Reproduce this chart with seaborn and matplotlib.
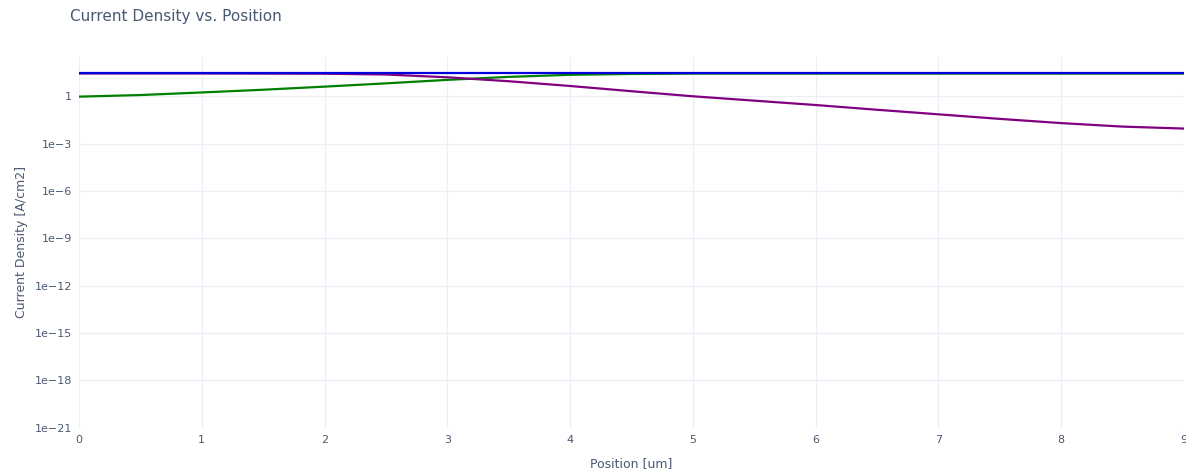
import pandas as pd
import matplotlib
matplotlib.use("Agg")
import matplotlib.pyplot as plt
import matplotlib.ticker as mticker
import seaborn as sns
import numpy as np

# values (log y axis)
position = [0, 0.5, 1, 1.5, 2, 2.5, 3, 3.5, 4, 4.5, 5, 5.5, 6, 6.5, 7, 7.5, 8, 8.5, 9]
j_green = [0.95, 1.2, 1.75, 2.6, 4.1, 6.6, 11, 17, 23, 26, 27.5, 27.5, 27.5, 27.5, 27.5, 27.5, 27.5, 27.5, 27.5]
j_purple = [28, 28, 28, 27.5, 27, 24, 16, 9, 4.5, 2.1, 1.0, 0.53, 0.28, 0.14, 0.072, 0.037, 0.020, 0.012, 0.009]
j_blue = [28] * len(position)
series_names = ["Jn", "Jp", "Jtotal"]
series_colors = ["green", "purple", "#0000dd"]
y_ticks = [1e-21, 1e-18, 1e-15, 1e-12, 1e-9, 1e-6, 1e-3, 1]
y_labels = ["1e\u221221", "1e\u221218", "1e\u221215", "1e\u221212", "1e\u22129", "1e\u22126", "1e\u22123", "1"]

df = pd.DataFrame({
    "Position": position * 3,
    "J": j_green + j_purple + j_blue,
    "Series": [series_names[0]] * len(position) + [series_names[1]] * len(position) + [series_names[2]] * len(position),
})

sns.set_theme(style="white")
plt.rcParams["font.family"] = ["DejaVu Sans"]
text_color = "#4a5872"
grid_color = "#ebf0f8"

fig = plt.figure(figsize=(11.86, 4.74), dpi=100)
ax = fig.add_axes([79 / 1186, 1 - 428 / 474, 1105 / 1186, (428 - 57) / 474])

sns.lineplot(data=df, x="Position", y="J", hue="Series", palette=dict(zip(series_names, series_colors)),
             linewidth=1.6, legend=False, ax=ax, zorder=3)

ax.set_yscale("log")
ax.set_xlim(0, 9)
ax.set_ylim(10 ** -21.02, 10 ** 2.49)
ax.set_xticks(range(10))
ax.yaxis.set_major_locator(mticker.FixedLocator(y_ticks))
ax.yaxis.set_minor_locator(mticker.NullLocator())
ax.set_yticklabels(y_labels)
ax.grid(True, color=grid_color, linewidth=1)
for s in ax.spines.values():
    s.set_visible(False)
ax.tick_params(axis="both", length=0, labelsize=8, labelcolor=text_color, pad=5)

ax.set_xlabel("Position [um]", fontsize=9, color=text_color, labelpad=9)
ax.set_ylabel("Current Density [A/cm2]", fontsize=9, color=text_color, labelpad=5)
fig.text(70 / 1186, 1 - 17 / 474, "Current Density vs. Position", fontsize=11, color=text_color,
         ha="left", va="center")

fig.savefig("out.png", dpi=100)
